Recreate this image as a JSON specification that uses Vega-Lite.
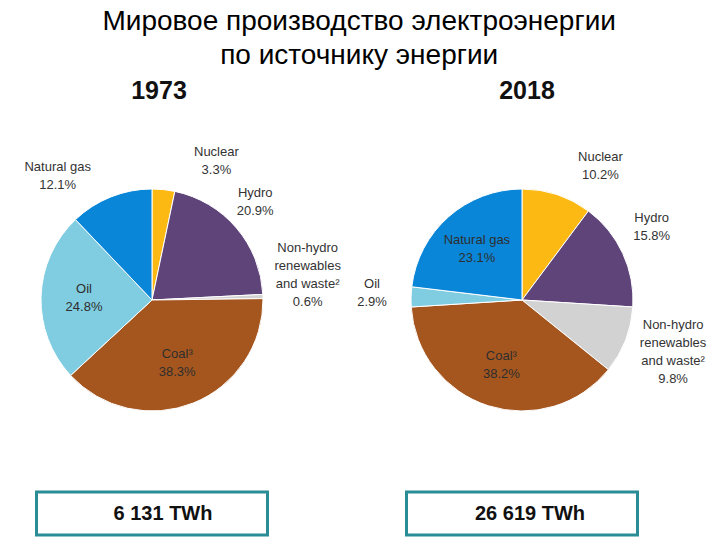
{
  "$schema": "https://vega.github.io/schema/vega-lite/v6.json",
  "autosize": {"type": "pad"},
  "padding": {"left": 2, "top": 8, "right": 0, "bottom": 0},
  "background": "white",
  "title": {
    "text": ["Мировое производство электроэнергии", "по источнику энергии"],
    "fontSize": 28,
    "font": "Liberation Sans",
    "fontWeight": "normal",
    "lineHeight": 34,
    "anchor": "middle",
    "frame": "bounds",
    "dx": 5,
    "color": "#000000"
  },
  "datasets": {
    "shares": [
      {"year": "1973", "source": "Nuclear", "order": 1, "share": 3.3, "label": "Nuclear\n3.3%", "place": "out"},
      {"year": "1973", "source": "Hydro", "order": 2, "share": 20.9, "label": "Hydro\n20.9%", "place": "out"},
      {"year": "1973", "source": "Non-hydro renewables and waste", "order": 3, "share": 0.6, "label": "Non-hydro\nrenewables\nand waste²\n0.6%", "place": "out"},
      {"year": "1973", "source": "Coal", "order": 4, "share": 38.3, "label": "Coal³\n38.3%", "place": "in"},
      {"year": "1973", "source": "Oil", "order": 5, "share": 24.8, "label": "Oil\n24.8%", "place": "in"},
      {"year": "1973", "source": "Natural gas", "order": 6, "share": 12.1, "label": "Natural gas\n12.1%", "place": "out"},
      {"year": "2018", "source": "Nuclear", "order": 1, "share": 10.2, "label": "Nuclear\n10.2%", "place": "out"},
      {"year": "2018", "source": "Hydro", "order": 2, "share": 15.8, "label": "Hydro\n15.8%", "place": "out"},
      {"year": "2018", "source": "Non-hydro renewables and waste", "order": 3, "share": 9.8, "label": "Non-hydro\nrenewables\nand waste²\n9.8%", "place": "out"},
      {"year": "2018", "source": "Coal", "order": 4, "share": 38.2, "label": "Coal³\n38.2%", "place": "in"},
      {"year": "2018", "source": "Oil", "order": 5, "share": 2.9, "label": "Oil\n2.9%", "place": "out"},
      {"year": "2018", "source": "Natural gas", "order": 6, "share": 23.1, "label": "Natural gas\n23.1%", "place": "in"}
    ],
    "totals": [
      {"year": "1973", "twh": 6131, "label": "6 131 TWh"},
      {"year": "2018", "twh": 26619, "label": "26 619 TWh"}
    ]
  },
  "spacing": 16,
  "hconcat": [
    {
      "center": true,
      "spacing": 62,
      "bounds": "flush",
      "vconcat": [
        {
          "width": 300, "height": 34,
          "data": {"name": "totals"},
          "transform": [{"filter": "datum.year == '1973'"}],
          "mark": {"type": "text", "fontSize": 25, "fontWeight": "bold", "font": "Liberation Sans", "dx": 7, "color": "#111111"},
          "encoding": {"text": {"field": "year", "type": "nominal"}}
        },
        {
          "width": 300, "height": 260,
          "data": {"name": "shares"},
          "transform": [{"filter": "datum.year == '1973'"}],
          "encoding": {
            "theta": {"field": "share", "type": "quantitative", "stack": true},
            "order": {"field": "order", "type": "quantitative"},
            "detail": {"field": "source", "type": "nominal"},
            "color": {
              "field": "source", "type": "nominal", "legend": null,
              "scale": {
                "domain": ["Nuclear", "Hydro", "Non-hydro renewables and waste", "Coal", "Oil", "Natural gas"],
                "range": ["#FDB913", "#5E4479", "#D2D2D2", "#A5561F", "#80CCE0", "#0A86D8"]
              }
            }
          },
          "layer": [
            {"mark": {"type": "arc", "outerRadius": 111, "stroke": "#ffffff", "strokeWidth": 1}},
            {
              "mark": {"type": "text", "radius": 68, "dy": -9, "lineBreak": "\n", "fontSize": 13, "font": "Liberation Sans", "lineHeight": 18},
              "encoding": {
                "color": {"value": "#2e2e2e"},
                "text": {"condition": {"test": "datum.place == 'in'", "field": "label"}, "value": ""}
              }
            },
            {
              "mark": {"type": "text", "radius": 142, "thetaOffset": -0.05, "dy": -9, "lineBreak": "\n", "fontSize": 13, "font": "Liberation Sans", "lineHeight": 18},
              "encoding": {
                "color": {"value": "#333333"},
                "text": {"condition": {"test": "datum.source == 'Hydro'", "field": "label"}, "value": ""}
              }
            },
            {
              "mark": {"type": "text", "radius": 150, "thetaOffset": 0.34, "dy": -13, "lineBreak": "\n", "fontSize": 13, "font": "Liberation Sans", "lineHeight": 18},
              "encoding": {
                "color": {"value": "#333333"},
                "text": {"condition": {"test": "datum.source == 'Nuclear'", "field": "label"}, "value": ""}
              }
            },
            {
              "mark": {"type": "text", "radius": 150, "thetaOffset": -0.18, "dx": 9, "dy": -21, "lineBreak": "\n", "fontSize": 13, "font": "Liberation Sans", "lineHeight": 18},
              "encoding": {
                "color": {"value": "#333333"},
                "text": {"condition": {"test": "datum.source == 'Non-hydro renewables and waste'", "field": "label"}, "value": ""}
              }
            },
            {
              "mark": {"type": "text", "radius": 150, "thetaOffset": -0.3, "dy": -16, "lineBreak": "\n", "fontSize": 13, "font": "Liberation Sans", "lineHeight": 18},
              "encoding": {
                "color": {"value": "#333333"},
                "text": {"condition": {"test": "datum.source == 'Natural gas'", "field": "label"}, "value": ""}
              }
            }
          ]
        },
        {
          "width": 231, "height": 43,
          "view": {"stroke": "#2A8C95", "strokeWidth": 3},
          "data": {"name": "totals"},
          "transform": [{"filter": "datum.year == '1973'"}],
          "mark": {"type": "text", "fontSize": 20, "fontWeight": "bold", "font": "Liberation Sans", "dx": 11, "color": "#111111"},
          "encoding": {"text": {"field": "label", "type": "nominal"}}
        }
      ]
    },
    {
      "center": true,
      "spacing": 62,
      "bounds": "flush",
      "vconcat": [
        {
          "width": 300, "height": 34,
          "data": {"name": "totals"},
          "transform": [{"filter": "datum.year == '2018'"}],
          "mark": {"type": "text", "fontSize": 25, "fontWeight": "bold", "font": "Liberation Sans", "dx": 5, "color": "#111111"},
          "encoding": {"text": {"field": "year", "type": "nominal"}}
        },
        {
          "width": 300, "height": 260,
          "data": {"name": "shares"},
          "transform": [{"filter": "datum.year == '2018'"}],
          "encoding": {
            "theta": {"field": "share", "type": "quantitative", "stack": true},
            "order": {"field": "order", "type": "quantitative"},
            "detail": {"field": "source", "type": "nominal"},
            "color": {
              "field": "source", "type": "nominal", "legend": null,
              "scale": {
                "domain": ["Nuclear", "Hydro", "Non-hydro renewables and waste", "Coal", "Oil", "Natural gas"],
                "range": ["#FDB913", "#5E4479", "#D2D2D2", "#A5561F", "#80CCE0", "#0A86D8"]
              }
            }
          },
          "layer": [
            {"mark": {"type": "arc", "outerRadius": 111, "stroke": "#ffffff", "strokeWidth": 1}},
            {
              "mark": {"type": "text", "radius": 68, "dy": -9, "lineBreak": "\n", "fontSize": 13, "font": "Liberation Sans", "lineHeight": 18},
              "encoding": {
                "color": {"value": "#2e2e2e"},
                "text": {"condition": {"test": "datum.place == 'in'", "field": "label"}, "value": ""}
              }
            },
            {
              "mark": {"type": "text", "radius": 150, "dy": -12, "lineBreak": "\n", "fontSize": 13, "font": "Liberation Sans", "lineHeight": 18},
              "encoding": {
                "color": {"value": "#333333"},
                "text": {"condition": {"test": "datum.source == 'Oil'", "field": "label"}, "value": ""}
              }
            },
            {
              "mark": {"type": "text", "radius": 148, "thetaOffset": -0.07, "dy": -11, "lineBreak": "\n", "fontSize": 13, "font": "Liberation Sans", "lineHeight": 18},
              "encoding": {
                "color": {"value": "#333333"},
                "text": {"condition": {"test": "datum.source == 'Hydro'", "field": "label"}, "value": ""}
              }
            },
            {
              "mark": {"type": "text", "radius": 155, "thetaOffset": -0.05, "dx": 4, "dy": -24, "lineBreak": "\n", "fontSize": 13, "font": "Liberation Sans", "lineHeight": 18},
              "encoding": {
                "color": {"value": "#333333"},
                "text": {"condition": {"test": "datum.source == 'Non-hydro renewables and waste'", "field": "label"}, "value": ""}
              }
            },
            {
              "mark": {"type": "text", "radius": 150, "thetaOffset": 0.23, "dy": -15, "lineBreak": "\n", "fontSize": 13, "font": "Liberation Sans", "lineHeight": 18},
              "encoding": {
                "color": {"value": "#333333"},
                "text": {"condition": {"test": "datum.source == 'Nuclear'", "field": "label"}, "value": ""}
              }
            }
          ]
        },
        {
          "width": 231, "height": 43,
          "view": {"stroke": "#2A8C95", "strokeWidth": 3},
          "data": {"name": "totals"},
          "transform": [{"filter": "datum.year == '2018'"}],
          "mark": {"type": "text", "fontSize": 20, "fontWeight": "bold", "font": "Liberation Sans", "dx": 8, "color": "#111111"},
          "encoding": {"text": {"field": "label", "type": "nominal"}}
        }
      ]
    }
  ],
  "config": {
    "view": {"stroke": null},
    "font": "Liberation Sans"
  }
}
